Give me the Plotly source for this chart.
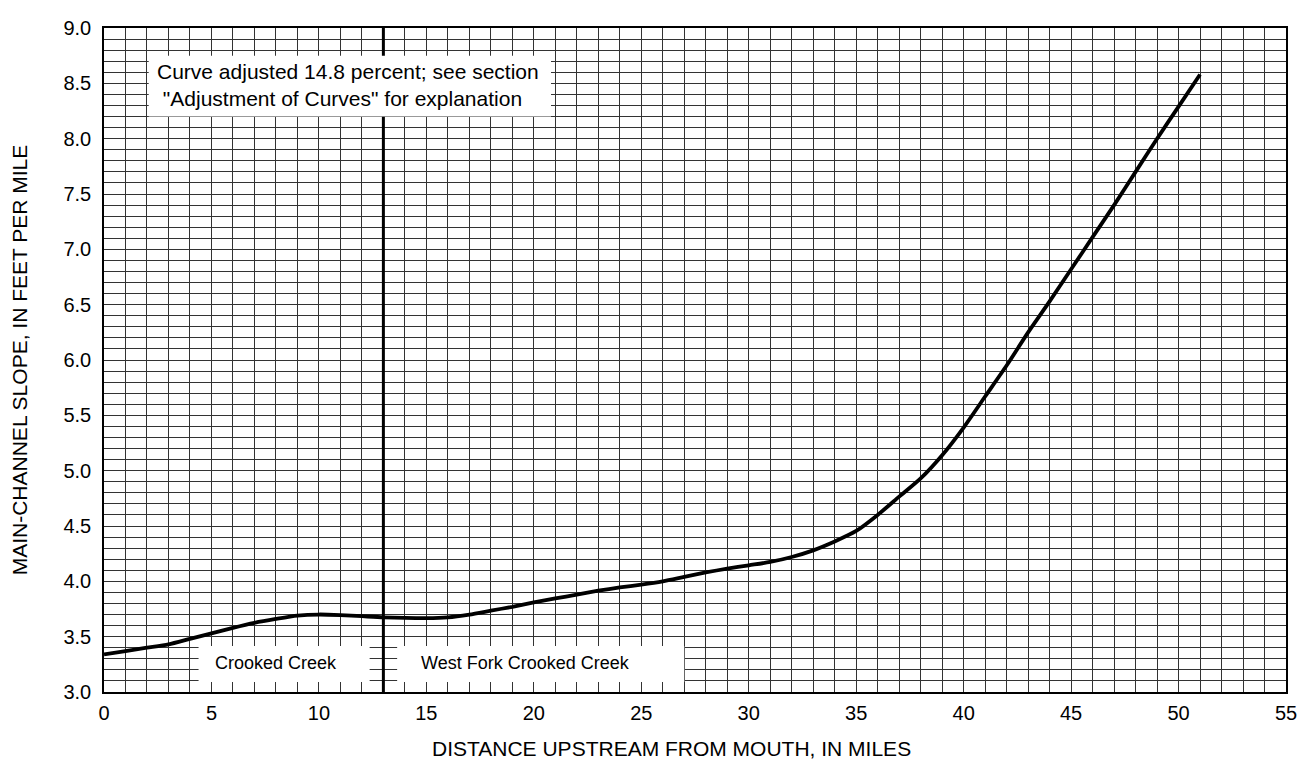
import plotly.graph_objects as go

# Distance upstream from mouth, miles
distance = [0, 1, 2, 3, 4, 5, 6, 7, 8, 9, 10, 11, 12, 13, 14, 15, 16, 17, 18, 19, 20,
            21, 22, 23, 24, 25, 26, 27, 28, 29, 30, 31, 32, 33, 34, 35, 36, 37, 38, 39,
            40, 41, 42, 43, 44, 45, 46, 47, 48, 49, 50, 51]
# Main-channel slope, feet per mile
slope = [3.34, 3.37, 3.40, 3.43, 3.48, 3.53, 3.58, 3.625, 3.66, 3.69, 3.70, 3.695,
         3.685, 3.675, 3.67, 3.668, 3.675, 3.70, 3.735, 3.77, 3.81, 3.845, 3.88, 3.915,
         3.945, 3.97, 4.00, 4.04, 4.08, 4.115, 4.145, 4.175, 4.22, 4.28, 4.36, 4.455,
         4.60, 4.765, 4.93, 5.14, 5.39, 5.67, 5.95, 6.25, 6.53, 6.82, 7.11, 7.40, 7.70,
         8.00, 8.29, 8.58]

divide_x = 13.0  # junction Crooked Creek / West Fork
x_ticks = [0, 5, 10, 15, 20, 25, 30, 35, 40, 45, 50, 55]
y_ticks = [3.0, 3.5, 4.0, 4.5, 5.0, 5.5, 6.0, 6.5, 7.0, 7.5, 8.0, 8.5, 9.0]

note_text = ("Curve adjusted 14.8 percent; see section<br>"
             " \"Adjustment of Curves\" for explanation")
label_left = "Crooked Creek"
label_right = "West Fork Crooked Creek"
x_title = "DISTANCE UPSTREAM FROM MOUTH, IN MILES"
y_title = "MAIN-CHANNEL SLOPE, IN FEET PER MILE"

FONT = "Liberation Sans, Arial, Helvetica, sans-serif"

fig = go.Figure()

# junction line
fig.add_trace(go.Scatter(x=[divide_x, divide_x], y=[3.0, 9.0], mode="lines",
                         line=dict(color="black", width=3), hoverinfo="skip",
                         showlegend=False))
# curve
fig.add_trace(go.Scatter(x=distance, y=slope, mode="lines",
                         line=dict(color="black", width=3.8, shape="spline", smoothing=0.7),
                         showlegend=False))

# white label boxes
boxes = [
    (2.08, 20.8, 8.2, 8.75),
    (4.4, 12.36, 3.09, 3.415),
    (13.64, 27.0, 3.09, 3.415),
]
for x0, x1, y0, y1 in boxes:
    fig.add_shape(type="rect", xref="x", yref="y", x0=x0, x1=x1, y0=y0, y1=y1,
                  fillcolor="white", line=dict(width=0), layer="above")

fig.add_annotation(x=2.35, y=8.485, xref="x", yref="y", text=note_text, showarrow=False,
                   xanchor="left", yanchor="middle", align="left",
                   font=dict(family=FONT, size=21, color="black"))
fig.add_annotation(x=8.0, y=3.265, xref="x", yref="y", text=label_left, showarrow=False,
                   xanchor="center", yanchor="middle",
                   font=dict(family=FONT, size=18, color="black"))
fig.add_annotation(x=19.6, y=3.265, xref="x", yref="y", text=label_right, showarrow=False,
                   xanchor="center", yanchor="middle",
                   font=dict(family=FONT, size=18, color="black"))
# x-axis title (sits a little left of the plot centre in the original)
fig.add_annotation(x=0.48, y=0, xref="paper", yref="paper", text=x_title, showarrow=False,
                   xanchor="center", yanchor="middle", yshift=-56,
                   font=dict(family=FONT, size=21, color="black"))

grid = dict(showgrid=True, gridcolor="#333333", gridwidth=1,
            minor=dict(showgrid=True, gridcolor="#333333", gridwidth=1),
            zeroline=False, showline=True, linecolor="black", linewidth=1.5,
            mirror=True, ticks="", tickfont=dict(family=FONT, size=20, color="black"))

fig.update_xaxes(range=[0, 55], tickvals=x_ticks, ticktext=[str(v) for v in x_ticks],
                 minor_dtick=1, minor_tick0=0, ticklabelstandoff=2,
                 ticklabeloverflow="allow", **grid)
fig.update_yaxes(range=[3.0, 9.0], tickvals=y_ticks,
                 ticktext=[f"{v:.1f}" for v in y_ticks],
                 minor_dtick=0.1, minor_tick0=3.0, ticklabelstandoff=7,
                 ticklabeloverflow="allow",
                 title=dict(text=y_title,
                            font=dict(family=FONT, size=21, color="black"), standoff=30),
                 **grid)

# page has an 8px body margin; size the figure so it fits the 1314x774 window
fig.update_layout(width=1298, height=758, plot_bgcolor="white", paper_bgcolor="white",
                  margin=dict(l=96, r=11, t=9, b=74), showlegend=False)

fig.write_html("out.html")
